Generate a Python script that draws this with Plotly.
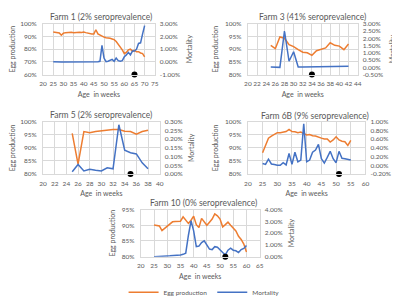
import plotly.graph_objects as go

# ---------------- data ----------------
farm1_age = [25, 26, 27, 28, 29, 30, 31, 32, 33, 34, 35, 36, 37, 38, 39, 40, 41, 42, 43, 44, 45, 46, 47,
             48, 49, 50, 51, 52, 53, 54, 55, 56, 57, 58, 59, 60, 61, 62, 63, 64, 65, 66, 67, 68, 69, 70]
farm1_egg = [93.5, 93.3, 93.0, 92.8, 91.0, 92.5, 93.0, 93.3, 93.5, 93.3, 93.0, 93.3, 93.5, 93.3, 93.2, 93.5,
             93.0, 92.5, 92.0, 92.0, 92.0, 95.3, 92.0, 91.0, 90.0, 89.5, 89.0, 89.0, 88.5, 88.0, 87.5, 86.0,
             84.0, 82.0, 79.5, 76.5, 77.5, 79.5, 80.0, 78.5, 79.0, 78.0, 78.0, 77.0, 76.5, 74.0]
farm1_mort = [0.02, 0.0, 0.0, -0.02, 0.0, 0.0, 0.0, 0.0, 0.02, 0.0, 0.0, 0.0, -0.02, 0.0, 0.02, 0.0,
              0.0, 0.0, 0.0, 0.02, 0.0, 0.02, 0.02, 0.05, 1.3, 0.3, 0.02, 0.05, 0.15, 0.2, 0.05, 0.3,
              0.1, 0.05, 0.1, 0.4, 0.55, 0.75, 0.55, 0.85, 0.85, 1.0, 1.45, 1.5, 2.2, 2.85]
farm1_dot = 65

farm3_age = [25, 26, 27, 28, 29, 30, 31, 32, 33, 34, 35, 36, 37, 38, 39, 40, 41, 42]
farm3_egg = [91.5, 90.2, 94.8, 94.3, 91.8, 91.0, 89.8, 88.8, 88.6, 87.6, 89.4, 90.0, 90.5, 92.5, 91.5,
             91.2, 89.8, 92.0]
farm3_mort = [0.02, 0.02, 0.0, 2.5, 0.42, 1.07, 0.02, 0.03, 0.03, 0.04, 0.03, 0.03, 0.04, 0.06, 0.03,
              0.04, 0.05, 0.07]
farm3_dot = 34

farm5_age = [25, 26, 27, 28, 29, 30, 31, 32, 33, 34, 35, 36, 37, 38]
farm5_egg = [95.5, 83.8, 96.2, 95.8, 96.2, 96.5, 96.8, 97.0, 97.0, 96.3, 96.2, 95.2, 96.2, 96.7]
farm5_mort = [0.013, 0.055, 0.018, 0.027, 0.022, 0.018, 0.036, 0.03, 0.282, 0.136, 0.122, 0.115, 0.064, 0.03]
farm5_dot = 35

farm6b_age = [25, 26, 27, 28, 29, 30, 31, 32, 33, 34, 35, 36, 37, 38, 39, 40, 41, 42, 43, 44, 45, 46,
              47, 48, 49, 50, 51, 52, 53, 54, 55]
farm6b_egg = [88.1, 90.9, 93.7, 94.5, 95.2, 95.8, 95.8, 95.9, 96.2, 97.0, 96.2, 96.1, 95.8, 96.0, 95.6,
              94.9, 95.1, 94.6, 94.5, 94.0, 93.7, 93.4, 93.4, 92.2, 93.0, 94.2, 93.0, 92.5, 92.3, 90.9, 92.8]
farm6b_mort = [0.04, 0.02, 0.14, 0.03, 0.02, 0.0, 0.0, 0.06, 0.01, 0.27, 0.02, 0.30, 0.08, 0.12, 0.95,
               0.08, 0.12, 0.30, 0.35, 0.48, 0.15, 0.05, 0.18, 0.32, 0.15, 0.06, 0.32, 0.16, 0.15, 0.14, 0.12]
farm6b_dot = 51

farm10_age = [25, 26, 27, 28, 29, 30, 31, 32, 33, 34, 35, 36, 37, 38, 39, 40, 41, 42, 43, 44, 45, 46,
              47, 48, 49, 50, 51, 52, 53, 54, 55, 56, 57, 58, 59, 60]
farm10_egg = [90.1, 90.0, 89.8, 88.3, 89.0, 89.8, 90.6, 91.1, 91.2, 91.2, 91.3, 92.7, 91.6, 90.6, 91.6,
              92.9, 90.2, 89.3, 92.2, 91.0, 90.0, 91.0, 92.0, 93.6, 93.0, 92.0, 89.5, 90.2, 91.0, 90.0,
              89.0, 88.2, 86.5, 85.5, 84.0, 81.5]
farm10_mort = [0.0, 0.0, 0.02, 0.03, 0.05, 0.06, 0.07, 0.08, 0.1, 0.12, 0.15, 0.2, 0.3, 1.8, 3.05, 2.2,
               0.85, 0.9, 1.2, 1.35, 1.0, 0.65, 0.6, 0.85, 0.8, 0.55, 0.35, 0.15, 0.55, 0.72, 0.55, 0.5,
               0.35, 0.6, 0.7, 0.95]
farm10_dot = 52

titles = ["Farm 1 (2% seroprevalence)", "Farm 3 (41% seroprevalence)", "Farm 5 (2% seroprevalence)",
          "Farm 6B (9% seroprevalence)", "Farm 10 (0% seroprevalence)"]
x_title = "Age  in weeks"
y_title = "Egg production"
y2_title = "Mortality"
series_names = ["Egg production", "Mortality"]

farm1_mort_ticks = [-1.0, 0.0, 1.0, 2.0, 3.0]
farm3_mort_ticks = [-0.5, 0.0, 0.5, 1.0, 1.5, 2.0, 2.5, 3.0]
farm5_mort_ticks = [0.0, 0.05, 0.10, 0.15, 0.20, 0.25, 0.30]
farm6b_mort_ticks = [-0.2, 0.0, 0.2, 0.4, 0.6, 0.8, 1.0]
farm10_mort_ticks = [0.0, 1.0, 2.0, 3.0, 4.0]

# ---------------- layout / style ----------------
W, H = 400, 299
ORANGE = "#ED7D31"
BLUE = "#4472C4"
GRID = "#D9D9D9"
TXT = "#595959"
FONT = "Lato"

panels = [
    dict(age=farm1_age, egg=farm1_egg, mort=farm1_mort, dot=farm1_dot, mt=farm1_mort_ticks,
         xr=(20, 75), xd=5, yr=(60, 100), yd=10, box=(31.7, 145.7, 12.3, 65.7), tp=(90.5, 5), rs=7),
    dict(age=farm3_age, egg=farm3_egg, mort=farm3_mort, dot=farm3_dot, mt=farm3_mort_ticks,
         xr=(20, 44), xd=2, yr=(80, 100), yd=5, box=(240.7, 352.7, 12.3, 65.7), tp=(306.7, 5), rs=7),
    dict(age=farm5_age, egg=farm5_egg, mort=farm5_mort, dot=farm5_dot, mt=farm5_mort_ticks,
         xr=(20, 40), xd=2, yr=(80, 100), yd=5, box=(31.7, 150.7, 115, 170), tp=(90.5, 108.5), rs=7),
    dict(age=farm6b_age, egg=farm6b_egg, mort=farm6b_mort, dot=farm6b_dot, mt=farm6b_mort_ticks,
         xr=(20, 60), xd=5, yr=(80, 100), yd=5, box=(240.7, 360.7, 115, 170), tp=(308.7, 109), rs=5),
    dict(age=farm10_age, egg=farm10_egg, mort=farm10_mort, dot=farm10_dot, mt=farm10_mort_ticks,
         xr=(20, 65), xd=5, yr=(80, 95), yd=5, box=(131.5, 252.7, 207.3, 256.7), tp=(195, 200), rs=7),
]

tickfont = dict(family=FONT, size=6.5, color=TXT)
titlefont = dict(family=FONT, size=7, color=TXT)

fig = go.Figure()
layout = {}
annotations = []

for k, p in enumerate(panels, start=1):
    xname = "x" if k == 1 else f"x{k}"
    yl_i, yr_i = 2 * k - 1, 2 * k
    ylname = "y" if yl_i == 1 else f"y{yl_i}"
    yrname = f"y{yr_i}"
    x0, x1, ytop, ybot = p["box"]
    xdom = [x0 / W, x1 / W]
    ydom = [1 - ybot / H, 1 - ytop / H]

    fig.add_trace(go.Scatter(x=p["age"], y=p["egg"], xaxis=xname, yaxis=ylname, mode="lines",
                             line=dict(color=ORANGE, width=1.5), name=series_names[0],
                             legendgroup="egg", showlegend=(k == 1)))
    fig.add_trace(go.Scatter(x=p["age"], y=p["mort"], xaxis=xname, yaxis=yrname, mode="lines",
                             line=dict(color=BLUE, width=1.5), name=series_names[1],
                             legendgroup="mort", showlegend=(k == 1)))
    fig.add_trace(go.Scatter(x=[p["dot"]], y=[p["mt"][0]], xaxis=xname, yaxis=yrname, mode="markers",
                             marker=dict(color="black", size=6), showlegend=False, cliponaxis=False,
                             hoverinfo="skip"))

    xkey = "xaxis" if k == 1 else f"xaxis{k}"
    ylkey = "yaxis" if yl_i == 1 else f"yaxis{yl_i}"
    yrkey = f"yaxis{yr_i}"

    layout[xkey] = dict(domain=xdom, anchor=ylname, range=list(p["xr"]), tick0=p["xr"][0], dtick=p["xd"],
                        showgrid=True, gridcolor=GRID, gridwidth=1, zeroline=False,
                        showline=True, linecolor=GRID, mirror=True, ticks="", tickangle=0,
                        tickfont=tickfont, ticklabelstandoff=3,
                        title=dict(text=x_title, font=titlefont, standoff=5))
    layout[ylkey] = dict(domain=ydom, anchor=xname, range=list(p["yr"]), tick0=p["yr"][0], dtick=p["yd"],
                         ticksuffix="%", showgrid=True, gridcolor=GRID, gridwidth=1, zeroline=False,
                         showline=True, linecolor=GRID, mirror=True, ticks="",
                         tickfont=tickfont, ticklabelstandoff=4,
                         title=dict(text=y_title, font=titlefont, standoff=5))
    layout[yrkey] = dict(overlaying=ylname, side="right", anchor=xname,
                         range=[p["mt"][0], p["mt"][-1]], tickvals=p["mt"],
                         ticktext=[f"{v:.2f}%" for v in p["mt"]],
                         showgrid=False, zeroline=False, showline=False, ticks="",
                         tickfont=tickfont, ticklabelstandoff=4,
                         title=dict(text=y2_title, font=titlefont, standoff=p["rs"]))

    annotations.append(dict(text=titles[k - 1], xref="paper", yref="paper",
                            x=p["tp"][0] / W, y=1 - p["tp"][1] / H, xanchor="center", yanchor="middle",
                            showarrow=False, font=dict(family=FONT, size=8.5, color=TXT)))

fig.update_layout(
    width=W, height=H,
    margin=dict(l=0, r=0, t=0, b=0),
    paper_bgcolor="white", plot_bgcolor="white",
    font=dict(family=FONT, color=TXT),
    annotations=annotations,
    showlegend=True,
    legend=dict(orientation="h", x=196 / W, xanchor="center", y=1 - 294 / H, yanchor="middle",
                font=dict(family=FONT, size=6.5, color=TXT), itemwidth=30,
                bgcolor="rgba(0,0,0,0)", tracegroupgap=0),
    **layout,
)

fig.write_html("out.html")
